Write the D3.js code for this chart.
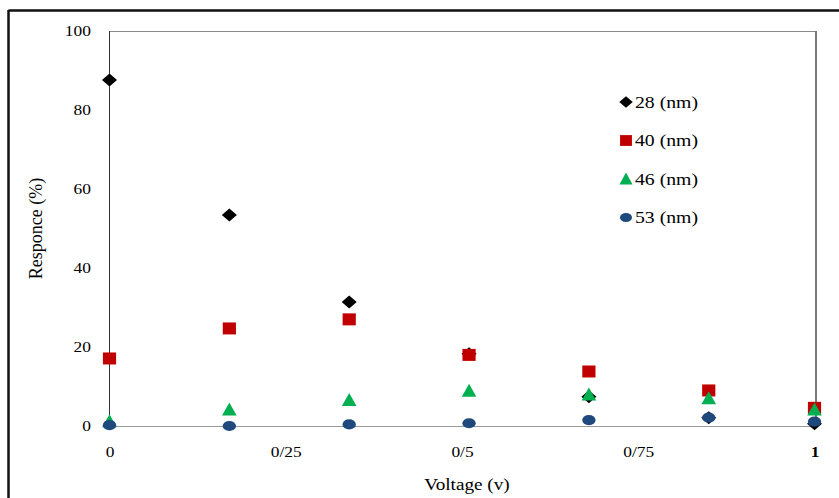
<!DOCTYPE html>
<html>
<head>
<meta charset="utf-8">
<script src="https://cdn.jsdelivr.net/npm/d3@7"></script>
<style>
  html, body { margin: 0; padding: 0; background: #fff; }
  svg { display: block; }
  svg text { font-family: "Liberation Serif", "Times New Roman", serif; fill: #000; }
</style>
</head>
<body>
<svg id="chart" width="839" height="498"></svg>
<script>
// Response (%) vs. applied voltage for four particle sizes
const voltages = [0, 0.17, 0.34, 0.51, 0.68, 0.85, 1];
const seriesNames = ["28 (nm)", "40 (nm)", "46 (nm)", "53 (nm)"];
const resp28 = [87.6, 53.4, 31.4, 18.3, 7.4, 2.1, 0.6];
const resp40 = [17.1, 24.7, 27.0, 18.0, 13.8, 9.0, 4.6];
const resp46 = [1.2, 4.2, 6.6, 8.9, 8.0, 7.0, 4.2];
const resp53 = [0.2, 0.0, 0.4, 0.7, 1.5, 2.1, 1.1];
const xTickValues = [0, 0.25, 0.5, 0.75, 1];
const xTickLabels = ["0", "0/25", "0/5", "0/75", "1"];
const yTickValues = [0, 20, 40, 60, 80, 100];

const seriesValues = [resp28, resp40, resp46, resp53];
const seriesShapes = ["diamond", "square", "triangle", "ellipse"];
const seriesColors = ["#000000", "#C00000", "#00B050", "#1F497D"];

const serif = '"Liberation Serif", "Times New Roman", serif';
const svg = d3.select("#chart").style("font-family", serif);
const stretch = 1.16; // glyphs are drawn slightly wide

const x = d3.scaleLinear().domain([0, 1]).range([109.5, 814.5]);
const y = d3.scaleLinear().domain([0, 100]).range([426, 31]);

// outer frame (top and left edges)
svg.append("line").attr("x1", 8.5).attr("x2", 839).attr("y1", 10.5).attr("y2", 10.5)
  .attr("stroke", "#111").attr("stroke-width", 2.5);
svg.append("line").attr("x1", 8.5).attr("x2", 8.5).attr("y1", 10).attr("y2", 498)
  .attr("stroke", "#111").attr("stroke-width", 2.5);

// plot area border
svg.append("line").attr("x1", x(0)).attr("x2", x(1) + 1.5).attr("y1", y(100) + 0.5).attr("y2", y(100) + 0.5)
  .attr("stroke", "#8a8a8a").attr("stroke-width", 1);
svg.append("line").attr("x1", x(1) + 1.5).attr("x2", x(1) + 1.5).attr("y1", y(100)).attr("y2", y(0))
  .attr("stroke", "#7a7a7a").attr("stroke-width", 2);

// x axis
const xAxis = svg.append("g")
  .attr("transform", `translate(0,${y(0)})`)
  .call(d3.axisBottom(x).tickValues(xTickValues)
    .tickFormat((d, i) => xTickLabels[i]).tickSize(0).tickPadding(20));
xAxis.attr("font-family", null).style("font-family", serif);
xAxis.select(".domain").attr("stroke", "#9a9a9a").attr("d", `M${x(0)},0.5H${x(1)}`);
xAxis.selectAll("text")
  .style("font-family", serif).attr("font-size", 15).attr("fill", "#000")
  .attr("transform", `scale(${stretch},1)`)
  .attr("font-weight", d => d === 1 ? "bold" : "normal");

// y axis
const yAxis = svg.append("g")
  .attr("transform", `translate(${x(0)},0)`)
  .call(d3.axisLeft(y).tickValues(yTickValues).tickSize(0).tickPadding(16));
yAxis.attr("font-family", null).style("font-family", serif);
yAxis.select(".domain").attr("stroke", "#333").attr("d", `M0,${y(100)}V${y(0)}`);
yAxis.selectAll("text")
  .style("font-family", serif).attr("font-size", 15).attr("fill", "#000")
  .attr("transform", `scale(${stretch},1)`);

// axis titles
svg.append("text")
  .attr("transform", `translate(${(x(0) + x(1)) / 2 + 5},490) scale(1.13,1)`)
  .attr("text-anchor", "middle").attr("font-size", 17).text("Voltage (v)");
svg.append("text")
  .attr("transform", `translate(42,${(y(0) + y(100)) / 2}) rotate(-90)`)
  .attr("text-anchor", "middle").attr("font-size", 18).text("Responce (%)");

// marker outlines, centred on (0,0)
function markerPath(shape, s) {
  const k = s || 1;
  switch (shape) {
    case "diamond": {
      const w = 7.5 * k, h = 6.5 * k;
      return `M0,${-h}L${w},0L0,${h}L${-w},0Z`;
    }
    case "square": {
      const w = 6.6 * k, h = 6 * k;
      return `M${-w},${-h}H${w}V${h}H${-w}Z`;
    }
    case "triangle": {
      const w = 7.3 * k, h = 6 * k;
      return `M0,${-h - 1}L${w},${h}L${-w},${h}Z`;
    }
    default: {
      const rx = 6.7 * k, ry = 5.1 * k;
      return `M${-rx},0A${rx},${ry} 0 1,0 ${rx},0A${rx},${ry} 0 1,0 ${-rx},0Z`;
    }
  }
}

// data points, one group per series
seriesValues.forEach((vals, si) => {
  svg.append("g").attr("class", "series")
    .selectAll("path")
    .data(vals.map((v, i) => ({ v: voltages[i], r: v })))
    .join("path")
    .attr("transform", d => `translate(${x(d.v)},${y(d.r)})`)
    .attr("d", markerPath(seriesShapes[si]))
    .attr("fill", seriesColors[si]);
});

// legend
const legend = svg.append("g").attr("transform", "translate(626,102)");
seriesNames.forEach((name, i) => {
  const row = legend.append("g").attr("transform", `translate(0,${i * 38.5})`);
  row.append("path").attr("d", markerPath(seriesShapes[i], 0.9)).attr("fill", seriesColors[i]);
  row.append("text")
    .attr("transform", `translate(9,5.5) scale(${stretch},1)`)
    .attr("font-size", 17).text(name);
});
</script>
</body>
</html>
